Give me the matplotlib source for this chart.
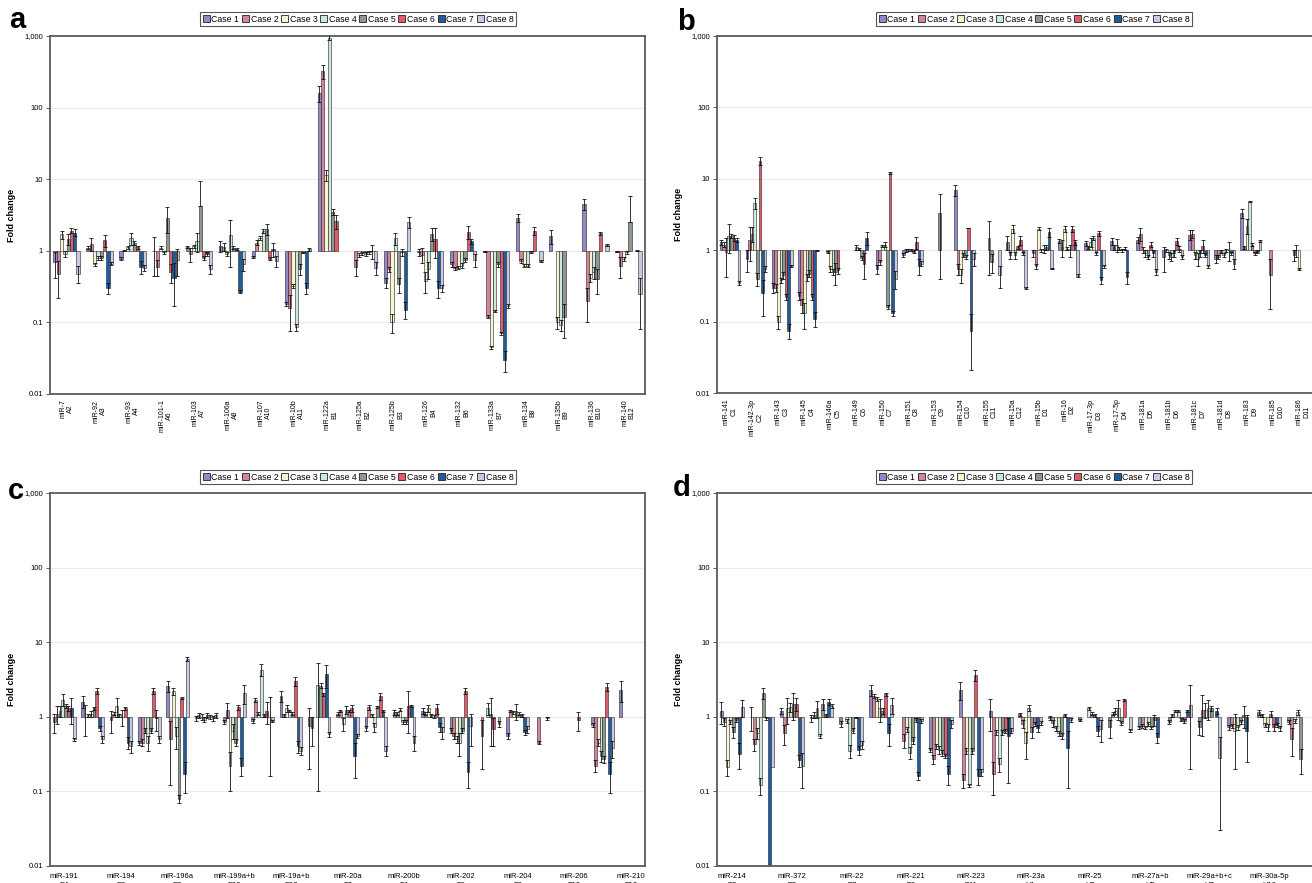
import matplotlib

matplotlib.use("Agg")
import matplotlib.pyplot as plt
import numpy as np
from matplotlib.patches import Patch

nan = np.nan

plt.rcParams["font.family"] = ["Liberation Sans", "DejaVu Sans"]

cases = ["Case 1", "Case 2", "Case 3", "Case 4", "Case 5", "Case 6", "Case 7", "Case 8"]
case_colors = ["#8e8bc7", "#d4839b", "#f6f5cf", "#cde8dc", "#8b9a8c", "#e05a6c", "#1f5c9e", "#c9c9e4"]

y_ticks = [0.01, 0.1, 1, 10, 100, 1000]
y_ticklabels = ["0.01", "0.1", "1", "10", "100", "1,000"]

# panel a
a_names = ["miR-7", "miR-92", "miR-93", "miR-101-1", "miR-103", "miR-106a", "miR-107", "miR-10b", "miR-122a",
           "miR-125a", "miR-125b", "miR-126", "miR-132", "miR-133a", "miR-134", "miR-135b", "miR-136", "miR-140"]
a_codes = ["A2", "A3", "A4", "A6", "A7", "A8", "A10", "A11", "B1", "B2", "B3", "B4", "B6", "B7", "B8", "B9", "B10", "B12"]
a_vals = [
    [0.69, 0.47, 1.7, 0.9, 1.45, 1.9, 1.8, 0.48],
    [1.1, 1.25, 0.65, 0.8, 0.8, 1.4, 0.3, 0.66],
    [0.78, 1.0, 1.12, 1.5, 1.28, 1.12, 0.6, 0.58],
    [1.0, 0.6, 1.1, 0.95, 2.9, 0.5, 0.42, 0.75],
    [1.13, 0.9, 1.15, 1.37, 4.2, 0.8, 0.9, 0.56],
    [1.17, 1.13, 0.9, 1.65, 1.1, 1.05, 0.27, 0.65],
    [0.82, 1.3, 1.5, 1.9, 2.0, 0.78, 1.05, 0.72],
    [0.18, 0.16, 0.32, 0.085, 0.56, 0.95, 0.3, 1.05],
    [160, 320, 11.5, 950, 3.5, 2.6, nan, nan],
    [nan, 0.6, 0.88, 0.92, 0.9, 0.95, 1.0, 0.58],
    [0.36, 0.55, 0.1, 1.5, 0.34, 0.95, 0.15, 2.5],
    [0.95, 0.88, 0.38, 0.55, 1.7, 1.45, 0.3, 0.3],
    [0.65, 0.57, 0.58, 0.62, 0.75, 1.85, 1.35, 0.75],
    [0.97, 0.12, 0.045, 0.145, 0.65, 0.07, 0.03, 0.17],
    [2.9, 0.72, 0.62, 0.62, 0.95, 1.9, nan, 0.72],
    [1.6, nan, 0.1, 0.092, 0.12, nan, nan, nan],
    [4.5, 0.2, 0.42, 0.5, 0.4, 1.75, nan, 1.2],
    [0.97, 0.62, 0.78, 0.95, 2.5, nan, 1.0, 0.25],
]
a_errs = [
    [0.27, 0.25, 0.22, 0.08, 0.25, 0.15, 0.2, 0.13],
    [0.05, 0.25, 0.03, 0.05, 0.05, 0.28, 0.05, 0.03],
    [0.03, 0.02, 0.05, 0.3, 0.08, 0.05, 0.12, 0.05],
    [0.55, 0.15, 0.05, 0.05, 1.15, 0.15, 0.25, 0.3],
    [0.05, 0.2, 0.05, 0.4, 5.1, 0.05, 0.05, 0.08],
    [0.2, 0.15, 0.05, 1.05, 0.05, 0.03, 0.01, 0.12],
    [0.03, 0.1, 0.1, 0.1, 0.35, 0.03, 0.22, 0.12],
    [0.01, 0.085, 0.02, 0.01, 0.1, 0.02, 0.05, 0.06],
    [40, 70, 2, 80, 0.3, 0.6, nan, nan],
    [nan, 0.15, 0.05, 0.05, 0.05, 0.05, 0.22, 0.12],
    [0.06, 0.05, 0.03, 0.3, 0.08, 0.1, 0.04, 0.45],
    [0.1, 0.2, 0.12, 0.15, 0.35, 0.65, 0.08, 0.03],
    [0.05, 0.03, 0.03, 0.05, 0.05, 0.4, 0.1, 0.15],
    [0.01, 0.005, 0.002, 0.005, 0.05, 0.003, 0.01, 0.01],
    [0.35, 0.05, 0.03, 0.03, 0.03, 0.22, nan, 0.02],
    [0.35, nan, 0.02, 0.015, 0.06, nan, nan, nan],
    [0.8, 0.1, 0.05, 0.1, 0.15, 0.1, nan, 0.05],
    [0.02, 0.2, 0.05, 0.05, 3.3, nan, 0.02, 0.17],
]

# panel b
b_names = ["miR-141", "miR-142-3p", "miR-143", "miR-145", "miR-146a", "miR-149", "miR-150", "miR-151", "miR-153",
           "miR-154", "miR-155", "miR-15a", "miR-15b", "miR-16", "miR-17-3p", "miR-17-5p", "miR-181a", "miR-181b",
           "miR-181c", "miR-181d", "miR-183", "miR-185", "miR-186"]
b_codes = ["C1", "C2", "C3", "C4", "C5", "C6", "C7", "C8", "C9", "C10", "C11", "C12",
           "D1", "D2", "D3", "D4", "D5", "D6", "D7", "D8", "D9", "D10", "D11"]
b_vals = [
    [1.3, 1.2, 0.95, 1.6, 1.6, 1.5, 1.4, 0.35],
    [0.75, 1.4, 1.7, 4.6, 0.4, 18, 0.25, 0.55],
    [0.3, 0.3, 0.1, 0.38, 0.45, 0.22, 0.075, 0.6],
    [0.23, 0.17, 0.13, 0.42, 0.47, 0.22, 0.11, 1.0],
    [nan, 0.95, 0.55, 0.5, 0.5, 0.52, nan, nan],
    [nan, nan, 1.1, 1.05, 0.78, 0.65, 1.5, nan],
    [0.55, 0.68, 1.15, 1.2, 0.16, 12, 0.13, 0.4],
    [0.85, 1.0, 1.0, 1.0, 0.95, 1.3, 0.6, 0.65],
    [nan, nan, nan, nan, 3.3, nan, nan, nan],
    [7.0, 0.55, 0.45, 0.85, 0.8, 2.05, 0.075, 0.75],
    [nan, nan, nan, 1.5, 0.68, nan, nan, 0.45],
    [1.3, 0.85, 2.0, 0.85, 1.1, 1.4, 0.9, 0.3],
    [0.9, 0.6, 2.0, 1.0, 1.05, 1.1, 1.8, 0.55],
    [1.35, 1.1, 2.0, 1.05, 1.0, 2.0, 1.3, 0.44],
    [1.25, 1.1, 1.3, 1.5, 0.9, 1.72, 0.38, 0.6],
    [1.35, 1.1, 1.2, 1.05, 1.0, 1.05, 0.42, nan],
    [1.4, 1.7, 1.0, 0.9, 0.8, 1.2, 0.9, 0.5],
    [0.8, 1.0, 0.85, 0.8, 0.9, 1.35, 1.05, 0.8],
    [1.65, 1.7, 0.85, 0.75, 0.9, 1.15, 0.85, 0.6],
    [0.76, 0.8, 0.95, 0.85, 1.0, 1.0, 0.9, 0.65],
    [3.3, 1.1, 2.2, 4.8, 1.2, 0.9, 0.95, 1.35],
    [nan, 0.45, nan, nan, nan, nan, nan, nan],
    [0.85, 1.0, 0.55, nan, nan, nan, nan, nan],
]
b_errs = [
    [0.1, 0.1, 0.53, 0.7, 0.1, 0.15, 0.1, 0.02],
    [0.25, 0.7, 0.4, 0.8, 0.08, 2.5, 0.13, 0.05],
    [0.05, 0.04, 0.02, 0.03, 0.05, 0.02, 0.018, 0.02],
    [0.03, 0.04, 0.05, 0.05, 0.05, 0.02, 0.025, 0.02],
    [nan, 0.03, 0.05, 0.05, 0.17, 0.05, nan, nan],
    [nan, nan, 0.1, 0.03, 0.05, 0.25, 0.3, nan],
    [0.08, 0.05, 0.05, 0.1, 0.01, 0.5, 0.01, 0.11],
    [0.05, 0.05, 0.03, 0.03, 0.05, 0.25, 0.15, 0.05],
    [nan, nan, nan, nan, 2.9, nan, nan, nan],
    [1.2, 0.1, 0.1, 0.05, 0.05, 0.02, 0.054, 0.15],
    [nan, nan, nan, 1.05, 0.2, nan, nan, 0.15],
    [0.3, 0.1, 0.25, 0.1, 0.05, 0.2, 0.05, 0.01],
    [0.1, 0.05, 0.1, 0.05, 0.15, 0.1, 0.25, 0.01],
    [0.1, 0.3, 0.2, 0.05, 0.2, 0.2, 0.1, 0.02],
    [0.1, 0.05, 0.2, 0.1, 0.05, 0.13, 0.04, 0.03],
    [0.15, 0.1, 0.25, 0.05, 0.05, 0.05, 0.08, nan],
    [0.15, 0.35, 0.1, 0.1, 0.05, 0.1, 0.1, 0.05],
    [0.3, 0.05, 0.1, 0.1, 0.1, 0.15, 0.1, 0.05],
    [0.25, 0.2, 0.1, 0.15, 0.1, 0.25, 0.05, 0.03],
    [0.1, 0.05, 0.05, 0.05, 0.05, 0.3, 0.05, 0.1],
    [0.5, 0.05, 0.5, 0.1, 0.05, 0.05, 0.05, 0.05],
    [nan, 0.3, nan, nan, nan, nan, nan, nan],
    [0.15, 0.2, 0.02, nan, nan, nan, nan, nan],
]

# panel c (only every other category is labelled)
c_names = ["miR-191", "miR-194", "miR-196a", "miR-199a+b", "miR-19a+b", "miR-20a", "miR-200b", "miR-202",
           "miR-204", "miR-206", "miR-210"]
c_codes = ["E4", "E6", "E8", "E10", "E12", "F2", "F4", "F6", "F8", "F10", "F12"]
c_vals = [
    [0.85, 1.1, 1.2, 1.7, 1.4, 1.3, 1.3, 0.5],
    [1.6, 1.0, 1.05, 1.1, 1.3, 2.2, 0.7, 0.5],
    [0.9, 1.1, 1.4, 1.05, 1.0, 1.3, 0.45, 0.4],
    [0.45, 0.45, 0.65, 0.45, 0.65, 2.2, 0.95, 0.5],
    [2.6, 0.5, 2.2, 0.55, 0.08, 1.8, 0.17, 6.0],
    [0.95, 1.05, 1.0, 0.92, 1.05, 1.0, 0.95, 1.05],
    [0.85, 1.25, 0.22, 0.65, 0.45, 1.35, 0.22, 2.1],
    [0.88, 1.7, 1.1, 4.3, 1.05, 1.2, 1.0, 0.88],
    [1.9, 1.05, 1.3, 1.2, 1.1, 3.0, 0.4, 0.35],
    [0.75, 0.7, nan, 2.7, 2.6, 2.0, 3.7, 0.58],
    [1.1, 1.2, 0.8, 1.25, 1.2, 1.3, 0.3, 0.55],
    [0.7, 1.35, 1.05, 0.72, 1.35, 1.9, 1.2, 0.35],
    [1.15, 1.1, 1.25, 0.85, 0.85, 1.4, 1.4, 0.45],
    [1.2, 1.1, 1.3, 1.05, 1.0, 1.3, 0.72, 0.62],
    [0.65, 0.55, 0.5, 0.45, 0.65, 2.2, 0.18, 0.75],
    [nan, 0.55, nan, 1.3, 1.1, 0.68, nan, 0.8],
    [0.55, 1.2, 1.15, 1.2, 1.1, 1.05, 0.62, 0.68],
    [nan, 0.45, nan, nan, 0.95, nan, nan, nan],
    [nan, nan, nan, nan, nan, 0.9, nan, nan],
    [0.78, 0.22, 0.45, 0.3, 0.27, 2.5, 0.17, 0.38],
    [2.3, nan, nan, nan, nan, nan, nan, nan],
]
c_errs = [
    [0.25, 0.3, 0.2, 0.3, 0.1, 0.1, 0.5, 0.02],
    [0.3, 0.45, 0.05, 0.1, 0.05, 0.2, 0.05, 0.05],
    [0.3, 0.05, 0.4, 0.05, 0.25, 0.05, 0.08, 0.07],
    [0.03, 0.05, 0.05, 0.1, 0.05, 0.2, 0.3, 0.05],
    [0.45, 0.38, 0.25, 0.18, 0.01, 0.05, 0.075, 0.4],
    [0.08, 0.08, 0.08, 0.06, 0.08, 0.06, 0.06, 0.08],
    [0.05, 0.3, 0.12, 0.15, 0.05, 0.1, 0.06, 0.6],
    [0.05, 0.1, 0.05, 0.8, 0.05, 0.4, 0.84, 0.03],
    [0.3, 0.05, 0.15, 0.05, 0.05, 0.4, 0.07, 0.04],
    [0.55, 0.3, nan, 2.6, 0.2, 0.1, 1.3, 0.05],
    [0.05, 0.05, 0.15, 0.15, 0.05, 0.15, 0.15, 0.03],
    [0.05, 0.1, 0.05, 0.1, 0.05, 0.2, 0.05, 0.05],
    [0.1, 0.05, 0.05, 0.05, 0.05, 0.8, 0.05, 0.1],
    [0.1, 0.05, 0.15, 0.05, 0.05, 0.2, 0.1, 0.12],
    [0.05, 0.05, 0.05, 0.15, 0.05, 0.2, 0.07, 0.35],
    [nan, 0.35, nan, 0.25, 0.7, 0.28, nan, 0.08],
    [0.05, 0.05, 0.05, 0.3, 0.05, 0.05, 0.05, 0.08],
    [nan, 0.02, nan, nan, 0.05, nan, nan, nan],
    [nan, nan, nan, nan, nan, 0.25, nan, nan],
    [0.05, 0.04, 0.05, 0.05, 0.03, 0.3, 0.075, 0.1],
    [0.7, nan, nan, nan, nan, nan, nan, nan],
]

# panel d (only every other category is labelled)
d_names = ["miR-214", "miR-372", "miR-22", "miR-221", "miR-223", "miR-23a", "miR-25", "miR-27a+b",
           "miR-29a+b+c", "miR-30a-5p"]
d_codes = ["G3", "G5", "G7", "G9", "G11", "H1", "H3", "H5", "H7", "H10"]
d_vals = [
    [1.2, 0.85, 0.21, 0.85, 0.62, 0.9, 0.32, 1.35],
    [1.0, 0.43, 0.6, 0.12, 2.1, 0.95, 0.006, 0.21],
    [1.2, 0.6, 1.3, 1.35, 1.5, 1.5, 0.26, 0.22],
    [0.95, 1.05, 1.3, 0.55, 1.5, 1.05, 1.6, 1.4],
    [0.8, nan, 0.88, 0.35, 0.65, 0.98, 0.36, 0.42],
    [2.3, 1.9, 1.75, 1.3, 1.2, 2.0, 0.6, 1.45],
    [nan, 0.48, 0.68, 0.33, 0.48, 0.9, 0.16, 0.88],
    [0.36, 0.27, 0.4, 0.36, 0.33, 0.3, 0.17, 0.8],
    [2.3, 0.14, 0.35, 0.12, 0.35, 3.6, 0.16, 0.18],
    [1.2, 0.17, 0.62, 0.23, 0.62, 0.65, 0.55, 0.65],
    [1.08, 0.8, 0.45, 1.3, 0.62, 0.8, 0.7, 0.82],
    [0.97, 0.82, 0.7, 0.6, 0.55, 1.05, 0.38, 0.9],
    [0.9, nan, nan, 1.3, 1.1, 1.05, 0.65, 0.68],
    [0.72, 1.1, 1.2, 1.3, 0.82, 1.7, nan, 0.66],
    [0.72, 0.75, 0.72, 0.8, 0.72, 0.9, 0.53, nan],
    [0.85, 1.05, 1.2, 1.2, 0.92, 0.88, 1.2, 1.45],
    [0.72, 1.25, 1.25, 1.3, 1.3, nan, 1.2, 0.28],
    [0.72, 0.75, 0.65, 0.72, 0.85, 1.05, 0.65, nan],
    [1.15, 1.05, 0.78, 0.72, 1.1, 0.72, 0.78, 0.7],
    [0.85, 0.5, 0.88, 1.15, 0.27, nan, nan, nan],
]
d_errs = [
    [0.4, 0.1, 0.05, 0.05, 0.1, 0.05, 0.12, 0.35],
    [0.35, 0.08, 0.1, 0.03, 0.35, 0.05, 0.0, 0.0],
    [0.1, 0.18, 0.5, 0.2, 0.6, 0.3, 0.05, 0.11],
    [0.1, 0.1, 0.35, 0.03, 0.25, 0.05, 0.15, 0.1],
    [0.08, nan, 0.05, 0.07, 0.05, 0.02, 0.05, 0.05],
    [0.4, 0.1, 0.1, 0.45, 0.1, 0.1, 0.2, 0.35],
    [nan, 0.1, 0.05, 0.06, 0.05, 0.05, 0.02, 0.05],
    [0.02, 0.04, 0.03, 0.04, 0.03, 0.02, 0.05, 0.1],
    [0.6, 0.03, 0.03, 0.005, 0.03, 0.6, 0.04, 0.02],
    [0.55, 0.08, 0.05, 0.05, 0.05, 0.04, 0.42, 0.05],
    [0.05, 0.1, 0.18, 0.12, 0.1, 0.05, 0.08, 0.05],
    [0.05, 0.08, 0.05, 0.05, 0.05, 0.05, 0.27, 0.05],
    [0.03, nan, nan, 0.05, 0.05, 0.05, 0.1, 0.22],
    [0.2, 0.05, 0.1, 0.4, 0.05, 0.05, nan, 0.03],
    [0.03, 0.05, 0.03, 0.05, 0.04, 0.15, 0.08, nan],
    [0.05, 0.05, 0.05, 0.05, 0.05, 0.05, 0.05, 1.25],
    [0.15, 0.7, 0.3, 0.4, 0.1, nan, 0.1, 0.25],
    [0.05, 0.05, 0.45, 0.05, 0.05, 0.35, 0.4, nan],
    [0.1, 0.05, 0.05, 0.08, 0.1, 0.08, 0.05, 0.05],
    [0.05, 0.2, 0.05, 0.1, 0.1, nan, nan, nan],
]

FIG_W, FIG_H = 1312, 883


def px_rect(left, top, right, bottom):
    return [left / FIG_W, 1 - bottom / FIG_H, (right - left) / FIG_W, (bottom - top) / FIG_H]


def draw_bars(ax, vals, errs):
    vals = np.array(vals, dtype=float)
    errs = np.array(errs, dtype=float)
    n_groups = vals.shape[0]
    x = np.arange(n_groups)
    bw = 0.1
    for i, color in enumerate(case_colors):
        v = vals[:, i]
        e = errs[:, i]
        ok = ~np.isnan(v)
        xi = x[ok] + (i - 3.5) * bw
        ax.bar(xi, v[ok] - 1, bottom=1, width=bw, color=color, edgecolor="#222222",
               linewidth=0.4, zorder=2)
        has_err = ok & ~np.isnan(e) & (e > 0)
        ve = v[has_err]
        ee = e[has_err]
        lo = np.where(ve - ee > 0, ee, 0)
        ax.errorbar(x[has_err] + (i - 3.5) * bw, ve, yerr=[lo, ee], fmt="none", ecolor="#111111",
                    elinewidth=0.6, capsize=1.6, capthick=0.6, zorder=3)
    ax.set_xlim(-0.5, n_groups - 0.5)


def style_axes(ax):
    ax.set_yscale("log")
    ax.set_ylim(0.01, 1000)
    ax.set_yticks(y_ticks)
    ax.set_yticklabels(y_ticklabels)
    ax.yaxis.set_minor_locator(matplotlib.ticker.NullLocator())
    ax.tick_params(axis="y", labelsize=5.5, length=3, width=0.6, color="#444444", pad=2)
    ax.tick_params(axis="x", length=0)
    for y in [0.1, 1, 10, 100]:
        ax.axhline(y, color="#ececec", linewidth=0.8, zorder=0)
    for spine in ax.spines.values():
        spine.set_color("#5a5a5a")
        spine.set_linewidth(1.3)
    ax.set_ylabel("Fold change", fontsize=6.5, fontweight="bold", labelpad=6)


def add_legend(fig, cx, cy):
    handles = [Patch(facecolor=c, edgecolor="#222222", linewidth=0.6) for c in case_colors]
    leg = fig.legend(handles, cases, loc="center", bbox_to_anchor=(cx / FIG_W, 1 - cy / FIG_H), ncol=8,
                     fontsize=6.3, frameon=True, fancybox=False, framealpha=1, edgecolor="#555555",
                     handlelength=0.8, handleheight=0.8, handletextpad=0.2, columnspacing=0.3,
                     borderpad=0.3, borderaxespad=0)
    leg.get_frame().set_linewidth(0.8)


def main():
    fig = plt.figure(figsize=(FIG_W / 100, FIG_H / 100), dpi=100)
    fig.patch.set_facecolor("white")

    ax_a = fig.add_axes(px_rect(50, 36, 645, 394))
    ax_b = fig.add_axes(px_rect(717, 36, 1316, 393))
    ax_c = fig.add_axes(px_rect(50, 493, 645, 866))
    ax_d = fig.add_axes(px_rect(717, 493, 1314, 866))

    for ax, vals, errs in [(ax_a, a_vals, a_errs), (ax_b, b_vals, b_errs),
                           (ax_c, c_vals, c_errs), (ax_d, d_vals, d_errs)]:
        style_axes(ax)
        draw_bars(ax, vals, errs)

    # rotated two-line category labels on the top panels
    for ax, names, codes in [(ax_a, a_names, a_codes), (ax_b, b_names, b_codes)]:
        ax.set_xticks(np.arange(len(names)))
        ax.set_xticklabels([f"{n}\n{c}" for n, c in zip(names, codes)], rotation=90, ha="center",
                           va="top", multialignment="center", fontsize=5, linespacing=1.1)
        ax.tick_params(axis="x", pad=4)

    # horizontal labels, every second category, on the bottom panels
    for ax, names, codes in [(ax_c, c_names, c_codes), (ax_d, d_names, d_codes)]:
        ax.set_xticks(np.arange(len(names)) * 2)
        ax.set_xticklabels([f"{n}\n{c}" for n, c in zip(names, codes)], fontsize=5.5, linespacing=1.4)
        ax.tick_params(axis="x", pad=5)

    add_legend(fig, 358, 19)
    add_legend(fig, 1034, 19)
    add_legend(fig, 358, 477)
    add_legend(fig, 1034, 477)

    for letter, x, y in [("a", 9, 28), ("b", 677, 30), ("c", 8, 499), ("d", 673, 496)]:
        fig.text(x / FIG_W, 1 - y / FIG_H, letter, fontsize=21, fontweight="bold", va="baseline", ha="left")

    fig.savefig("out.png", dpi=100)
    plt.close(fig)


if __name__ == "__main__":
    main()
